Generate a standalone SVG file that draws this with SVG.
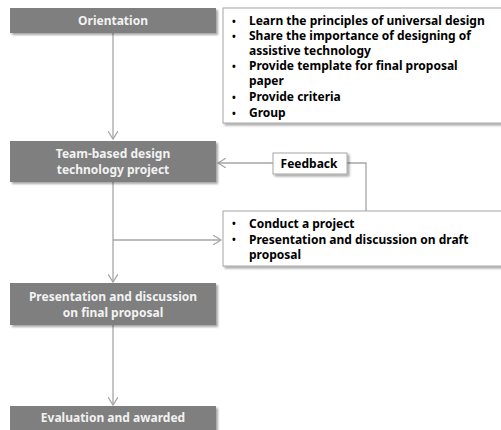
<svg xmlns="http://www.w3.org/2000/svg" width="501" height="430" viewBox="0 0 501 430">
<defs>
<filter id="sh" x="-10%" y="-20%" width="130%" height="160%">
<feDropShadow dx="2" dy="2" stdDeviation="1.2" flood-color="#000" flood-opacity="0.35"/>
</filter>
<marker id="ah" markerWidth="10" markerHeight="10" refX="8" refY="5" orient="auto" markerUnits="userSpaceOnUse">
<path d="M0,0 L8,5 L0,10" fill="none" stroke="#a6a6a6" stroke-width="1.2"/>
</marker>
<style>
.step{fill:#7f7f7f;filter:url(#sh)}
.note{fill:#fff;stroke:#a6a6a6;stroke-width:1;filter:url(#sh)}
.st{font-family:"Noto Sans","Open Sans",sans-serif;font-weight:bold;font-size:12px;fill:#f2f2f2;text-anchor:middle}
.nt{font-family:"Noto Sans","Open Sans",sans-serif;font-weight:bold;font-size:12px;fill:#000}
.bl{font-size:10px}
.con{fill:none;stroke:#a6a6a6;stroke-width:1.3}
</style>
</defs>
<g id="connectors">
<path class="con" d="M113,33 V139" marker-end="url(#ah)"/>
<path class="con" d="M113,182 V282" marker-end="url(#ah)"/>
<path class="con" d="M113,240 H221" marker-end="url(#ah)"/>
<path class="con" d="M113,325 V405" marker-end="url(#ah)"/>
<path class="con" d="M347,163 H366 V211"/>
<path class="con" d="M273,163 H218" marker-end="url(#ah)"/>
</g>
<g id="orientation">
<rect class="step" x="10" y="8" width="206" height="25"/>
<text class="st" x="113" y="25">Orientation</text>
</g>
<g id="orientation-notes">
<rect class="note" x="223" y="8" width="285" height="115"/>
<g class="nt">
<text class="bl" x="232" y="24.5">•</text><text x="249" y="25">Learn the principles of universal design</text>
<text class="bl" x="232" y="39.5">•</text><text x="249" y="40">Share the importance of designing of</text>
<text x="249" y="55">assistive technology</text>
<text class="bl" x="232" y="69.5">•</text><text x="249" y="70">Provide template for final proposal</text>
<text x="249" y="85">paper</text>
<text class="bl" x="232" y="100.5">•</text><text x="249" y="101">Provide criteria</text>
<text class="bl" x="232" y="116.5">•</text><text x="249" y="117">Group</text>
</g>
</g>
<g id="team">
<rect class="step" x="10" y="141" width="206" height="41"/>
<text class="st" x="113" y="157.5">Team-based design</text>
<text class="st" x="113" y="173.5">technology project</text>
</g>
<g id="feedback">
<rect class="note" x="273" y="153" width="74" height="21" stroke="none"/>
<text class="nt" x="309" y="168" text-anchor="middle">Feedback</text>
</g>
<g id="project-notes">
<rect class="note" x="223" y="211" width="285" height="55"/>
<g class="nt">
<text class="bl" x="232" y="227">•</text><text x="249" y="227.5">Conduct a project</text>
<text class="bl" x="232" y="243">•</text><text x="249" y="243.5">Presentation and discussion on draft</text>
<text x="249" y="258.5">proposal</text>
</g>
</g>
<g id="final">
<rect class="step" x="10" y="283" width="206" height="42"/>
<text class="st" x="113" y="300.5">Presentation and discussion</text>
<text class="st" x="113" y="316.5">on final proposal</text>
</g>
<g id="evaluation">
<rect class="step" x="10" y="406" width="206" height="30"/>
<text class="st" x="113" y="422">Evaluation and awarded</text>
</g>
</svg>
